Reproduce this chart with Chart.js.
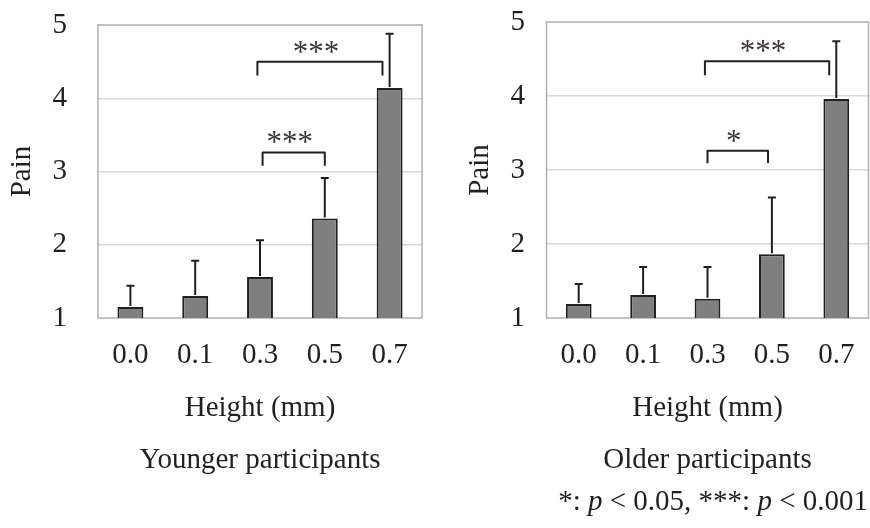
<!DOCTYPE html>
<html>
<head>
<meta charset="utf-8">
<script src="https://cdn.jsdelivr.net/npm/chart.js@4/dist/chart.umd.min.js"></script>
<style>
  html, body { margin: 0; padding: 0; background: #ffffff; }
  body { width: 870px; height: 528px; position: relative; overflow: hidden; }
  .panel { position: absolute; top: 0; width: 435px; height: 528px; }
  #p1 { left: 0; }
  #p2 { left: 435px; }
</style>
</head>
<body>
<div class="panel" id="p1"><canvas id="c1" width="435" height="528"></canvas></div>
<div class="panel" id="p2"><canvas id="c2" width="435" height="528"></canvas></div>
<script>
// ---- data ----
const heights = ['0.0', '0.1', '0.3', '0.5', '0.7'];
const yTicks = [1, 2, 3, 4, 5];

const youngerPain = [1.15, 1.30, 1.56, 2.36, 4.14];
const youngerSD   = [0.29, 0.48, 0.50, 0.55, 0.74];
const olderPain   = [1.19, 1.31, 1.26, 1.86, 3.96];
const olderSD     = [0.27, 0.38, 0.43, 0.77, 0.78];

// significance brackets: from / to (category index), top level and leg end (pain units)
const youngerBrackets = [
  { from: 2.04, to: 3.00, top: 3.26, leg: 3.08, label: '***' },
  { from: 1.96, to: 3.89, top: 4.50, leg: 4.31, label: '***' }
];
const olderBrackets = [
  { from: 2.00, to: 2.94, top: 3.26, leg: 3.09, label: '*' },
  { from: 1.96, to: 3.89, top: 4.47, leg: 4.28, label: '***' }
];

const FONT = '"Liberation Serif", "Times New Roman", serif';
const INK = '#231f20';

const errorBars = {
  id: 'errorBars',
  afterDatasetsDraw(chart, args, opts) {
    const ctx = chart.ctx;
    const y = chart.scales.y;
    const meta = chart.getDatasetMeta(0);
    const vals = chart.data.datasets[0].data;
    ctx.save();
    ctx.strokeStyle = INK;
    ctx.lineWidth = 2;
    meta.data.forEach((bar, i) => {
      const y0 = y.getPixelForValue(vals[i]);
      const y1 = y.getPixelForValue(vals[i] + opts.sd[i]);
      ctx.beginPath();
      ctx.moveTo(bar.x, y0 - 1);
      ctx.lineTo(bar.x, y1);
      ctx.moveTo(bar.x - 4, y1);
      ctx.lineTo(bar.x + 4, y1);
      ctx.stroke();
    });
    ctx.restore();
  }
};

const brackets = {
  id: 'brackets',
  afterDatasetsDraw(chart, args, opts) {
    const ctx = chart.ctx;
    const x = chart.scales.x, y = chart.scales.y;
    ctx.save();
    ctx.strokeStyle = INK;
    ctx.lineWidth = 2;
    ctx.lineJoin = 'round';
    ctx.fillStyle = '#3a3536';
    ctx.font = '31px ' + FONT;
    ctx.textAlign = 'center';
    ctx.textBaseline = 'alphabetic';
    opts.items.forEach(b => {
      const x1 = x.getPixelForValue(b.from), x2 = x.getPixelForValue(b.to);
      const yt = y.getPixelForValue(b.top), yl = y.getPixelForValue(b.leg);
      ctx.beginPath();
      ctx.moveTo(x1, yl);
      ctx.lineTo(x1, yt);
      ctx.lineTo(x2, yt);
      ctx.lineTo(x2, yl);
      ctx.stroke();
      ctx.fillText(b.label, (x1 + x2) / 2 - 4, yt);
    });
    ctx.restore();
  }
};

const plotBox = {
  id: 'plotBox',
  beforeDatasetsDraw(chart) {
    const {left, top, right, bottom} = chart.chartArea;
    const ctx = chart.ctx;
    ctx.save();
    ctx.strokeStyle = '#b0b0b0';
    ctx.lineWidth = 1.5;
    ctx.strokeRect(left, top, right - left, bottom - top);
    ctx.restore();
  }
};

const footnote = {
  id: 'footnote',
  afterDraw(chart, args, opts) {
    if (!opts.show) return;
    const ctx = chart.ctx;
    ctx.save();
    ctx.fillStyle = INK;
    ctx.textBaseline = 'middle';
    ctx.textAlign = 'left';
    const parts = [
      ['*: ', false], ['p', true], [' < 0.05, ***: ', false], ['p', true], [' < 0.001', false]
    ];
    let total = 0;
    parts.forEach(p => { ctx.font = (p[1] ? 'italic ' : '') + '29px ' + FONT; total += ctx.measureText(p[0]).width; });
    let cx = opts.right - total;
    parts.forEach(p => {
      ctx.font = (p[1] ? 'italic ' : '') + '29px ' + FONT;
      ctx.fillText(p[0], cx, opts.y);
      cx += ctx.measureText(p[0]).width;
    });
    ctx.restore();
  }
};

function makeChart(id, values, sd, items, cfg) {
  return new Chart(document.getElementById(id), {
    type: 'bar',
    data: {
      labels: heights,
      datasets: [{
        data: values,
        backgroundColor: '#7f7f7f',
        borderColor: INK,
        borderWidth: 2,
        borderSkipped: false,
        barPercentage: 0.8,
        categoryPercentage: 0.5
      }]
    },
    options: {
      responsive: false,
      animation: false,
      events: [],
      layout: { autoPadding: false, padding: { top: cfg.top, left: 0, right: cfg.right, bottom: 50.6 } },
      scales: {
        x: {
          grid: { display: false, drawTicks: false },
          border: { display: false },
          ticks: { color: INK, font: { family: FONT, size: 29 }, padding: 19.6, maxRotation: 0 },
          title: { display: true, text: 'Height (mm)', color: INK, font: { family: FONT, size: 29 }, padding: { top: 0, bottom: 2.6 } },
          afterFit(s) { s.height = 110; s.paddingLeft = 0; s.paddingRight = 0; }
        },
        y: {
          min: 1, max: 5,
          afterBuildTicks(s) { s.ticks = yTicks.map(v => ({ value: v })); },
          grid: {
            drawTicks: false,
            color: ctx => (ctx.tick && (ctx.tick.value === 1 || ctx.tick.value === 5)) ? 'rgba(0,0,0,0)' : '#d9d9d9',
            lineWidth: 1.5
          },
          border: { display: false },
          ticks: { color: INK, font: { family: FONT, size: 29 }, padding: cfg.tickPad },
          title: { display: true, text: 'Pain', color: INK, font: { family: FONT, size: 29 }, padding: { top: cfg.titlePad, bottom: 0 } },
          afterFit(s) { s.width = cfg.yWidth; s.paddingTop = 0; s.paddingBottom = 0; }
        }
      },
      plugins: {
        legend: { display: false },
        tooltip: { enabled: false },
        title: {
          display: true, position: 'bottom', fullSize: false, text: cfg.caption, color: INK,
          font: { family: FONT, size: 29, weight: 'normal' }, padding: { top: 14.6, bottom: 0 }
        },
        errorBars: { sd: sd },
        brackets: { items: items },
        footnote: cfg.footnote || { show: false }
      }
    },
    plugins: [plotBox, errorBars, brackets, footnote]
  });
}

makeChart('c1', youngerPain, youngerSD, youngerBrackets,
  { top: 25, right: 13, yWidth: 98, tickPad: 31, titlePad: 4.6, caption: 'Younger participants' });
makeChart('c2', olderPain, olderSD, olderBrackets,
  { top: 22, right: 1.5, yWidth: 111.5, tickPad: 21.5, titlePad: 27.6, caption: 'Older participants',
    footnote: { show: true, right: 433, y: 502 } });
</script>
</body>
</html>
